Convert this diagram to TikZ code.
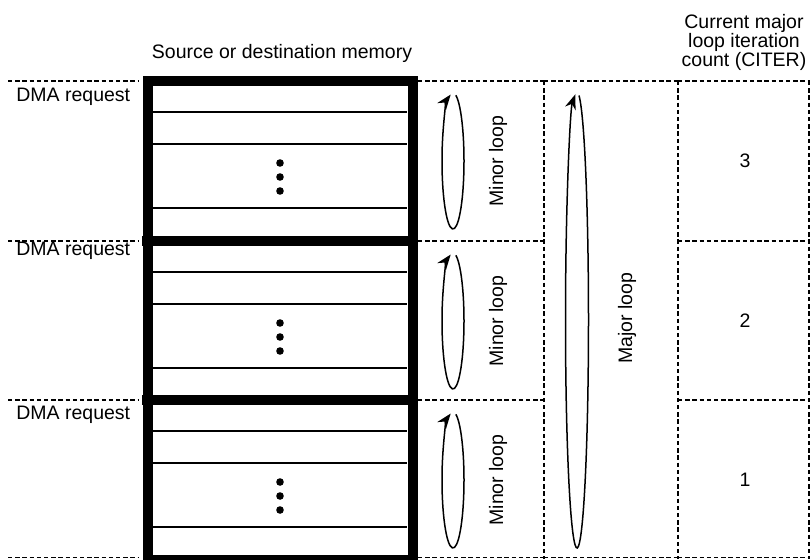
\documentclass[tikz,border=0pt]{standalone}
\usepackage{fontspec}
\setmainfont{Liberation Sans}
\usetikzlibrary{arrows.meta}

\begin{document}
\begin{tikzpicture}[x=0.5pt,y=-0.5pt]
	 \tikzstyle{txt}=[font=\fontsize{9.75}{9.5}\selectfont,inner sep=0pt]
	 \tikzstyle{sep}=[draw,line width=0.7pt,dash pattern=on 2.2pt off 1.4pt]
	 \tikzstyle{row}=[draw,line width=0.8pt]
	 \tikzstyle{frame}=[draw,line width=5pt]
	 \tikzstyle{loopline}=[draw,line width=0.75pt,-{Stealth[length=7.5pt,width=5.5pt]}]
	 \useasboundingbox (0,0) rectangle (810,559);

	 \node[txt] (mem) at (282,53) {Source or destination memory};
	 \node[txt,align=center] (citer) at (744,42) {Current major\\loop iteration\\count (CITER)};

	 % dashed separators
	 \foreach \y in {81,241,400,557.5} {
	   \draw[sep] (8,\y) -- (138,\y);
	   \draw[sep] (418,\y) -- (544,\y);
	   \draw[sep] (678,\y) -- (810,\y);
	 }
	 \draw[sep] (544,81) -- (678,81);
	 \draw[sep] (544,557.5) -- (678,557.5);
	 \foreach \x in {544,678,809} \draw[sep] (\x,81) -- (\x,559);

	 % one block per DMA request
	 \foreach \t/\n/\d [count=\i] in {81/3/16,241/2/10,400/1/15} {
	   \draw[row] (153,\t+31) -- (407,\t+31);
	   \draw[row] (153,\t+63) -- (407,\t+63);
	   \draw[row] (153,\t+127) -- (407,\t+127);
	   \fill (280,\t+82) circle[radius=1.9pt];
	   \fill (280,\t+96) circle[radius=1.9pt];
	   \fill (280,\t+110) circle[radius=1.9pt];
	   \node[txt,anchor=west] (dma\i) at (16,\t+\d) {DMA request};
	   \coordinate (minor\i) at (453,\t+80);
	   \draw[loopline] (minor\i) ++(75:5.5pt and 34pt)
	     arc[start angle=75,end angle=-258,x radius=5.5pt,y radius=34pt];
	   \node[txt,rotate=90] (minorlbl\i) at (498,\t+80) {Minor loop};
	   \node[txt] (count\i) at (745,\t+80) {\n};
	 }

	 % memory frame
	 \draw[frame] (147.5,81) rectangle (412.5,559.5);
	 \draw[frame] (142,241) -- (418,241);
	 \draw[frame] (142,400) -- (418,400);

	 % major loop
	 \coordinate (major) at (577,320);
	 \draw[loopline] (major) ++(80:5.75pt and 114pt)
	   arc[start angle=80,end angle=-262,x radius=5.75pt,y radius=114pt];
	 \node[txt,rotate=90] (majorlbl) at (627,318) {Major loop};
\end{tikzpicture}
\end{document}
